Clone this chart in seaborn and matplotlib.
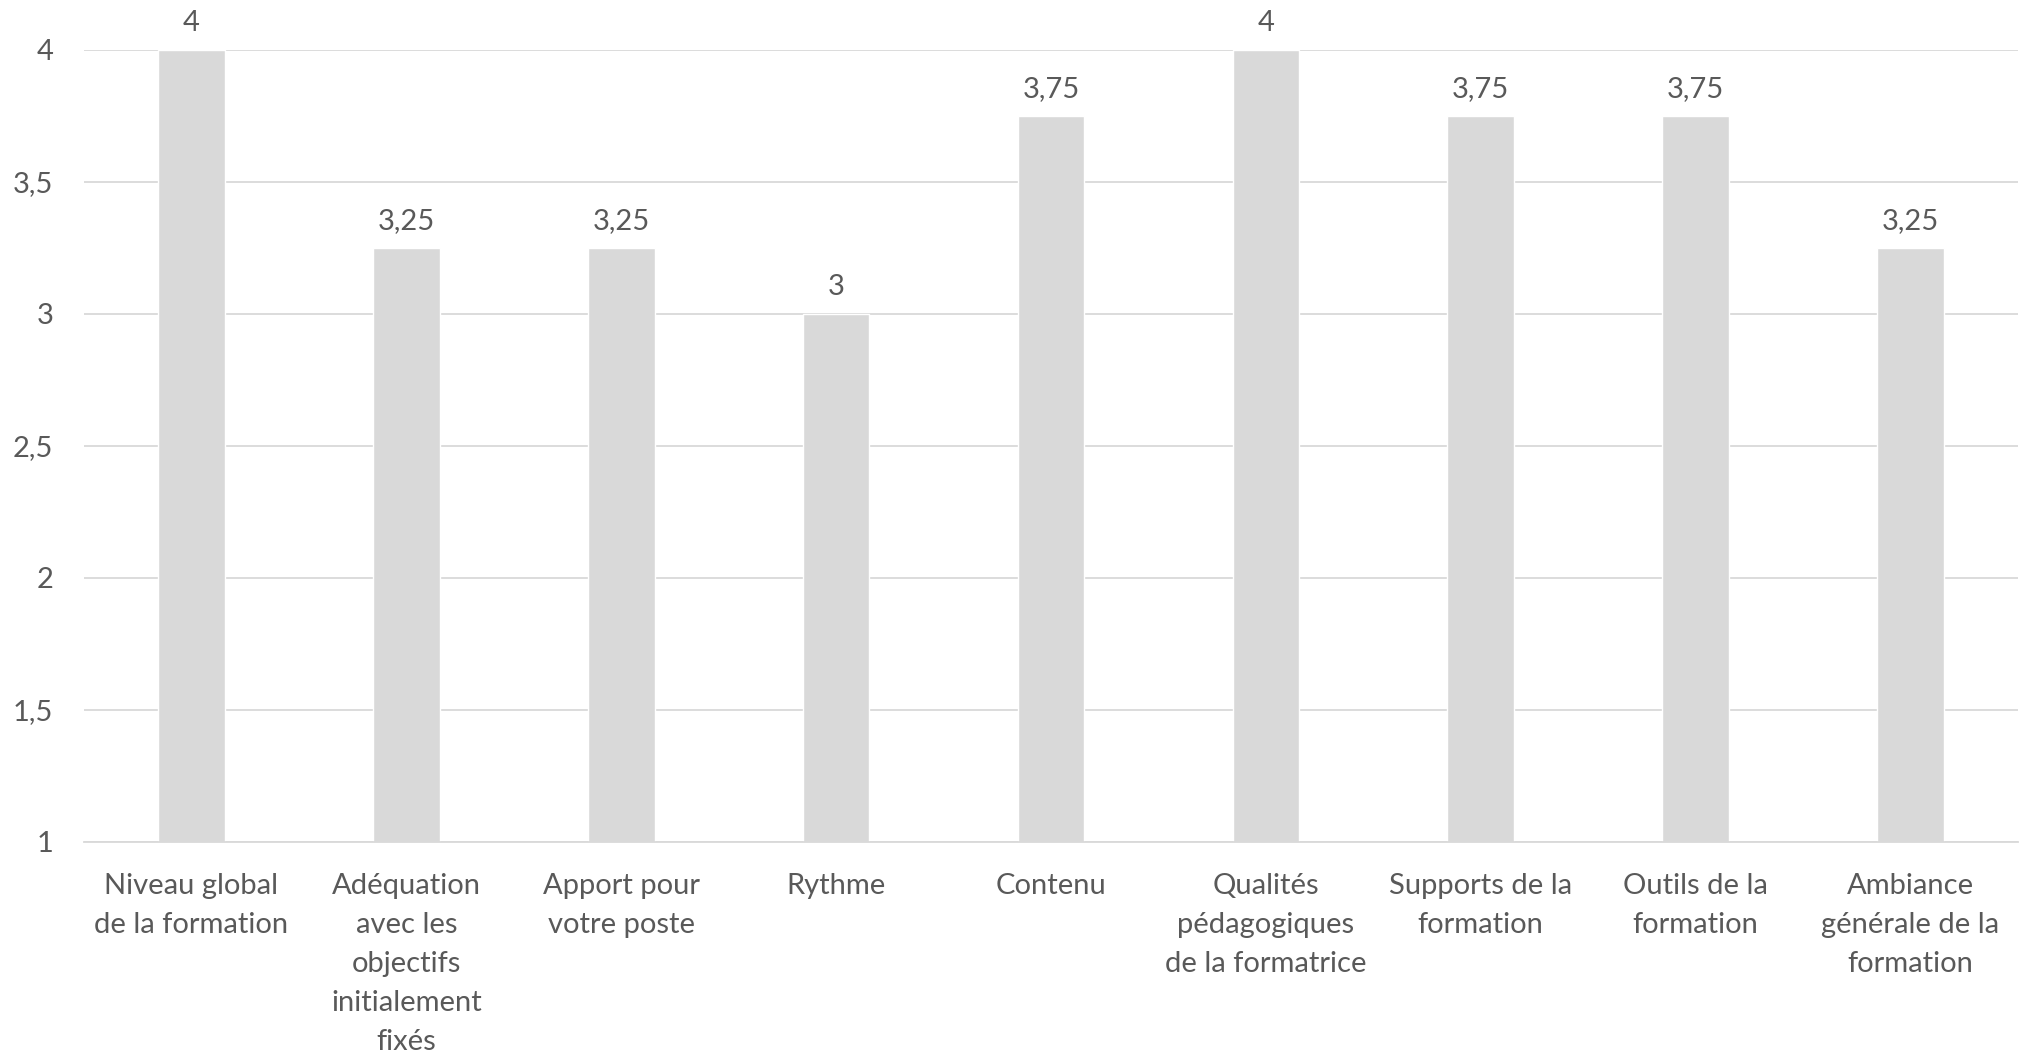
import matplotlib
matplotlib.use("Agg")
import matplotlib.pyplot as plt
import seaborn as sns
import pandas as pd

categories = [
    "Niveau global\nde la formation",
    "Adéquation\navec les\nobjectifs\ninitialement\nfixés",
    "Apport pour\nvotre poste",
    "Rythme",
    "Contenu",
    "Qualités\npédagogiques\nde la formatrice",
    "Supports de la\nformation",
    "Outils de la\nformation",
    "Ambiance\ngénérale de la\nformation",
]
values = [4, 3.25, 3.25, 3, 3.75, 4, 3.75, 3.75, 3.25]
yticks = [1, 1.5, 2, 2.5, 3, 3.5, 4]

sns.set_theme(style="white")
plt.rcParams['font.family'] = ['Lato', 'DejaVu Sans']

TXT = "#595959"
GRID = "#d9d9d9"
BAR = "#d9d9d9"

df = pd.DataFrame({"cat": categories, "val": values})

fig = plt.figure(figsize=(20.28, 10.54), dpi=100)
ax = fig.add_axes([84/2028, 212/1054, (2018-84)/2028, (842-50)/1054])

sns.barplot(data=df, x="cat", y="val", color=BAR, width=0.31, saturation=1,
            ax=ax, zorder=2)

ax.set_ylim(1, 4)
ax.set_xlim(-0.5, len(categories) - 0.5)
ax.set_yticks(yticks)
ax.set_yticklabels([("%g" % t).replace(".", ",") for t in yticks])
ax.set_axisbelow(True)
ax.yaxis.grid(True, color=GRID, linewidth=1.3)
ax.xaxis.grid(False)
for s in ["top", "right", "left"]:
    ax.spines[s].set_visible(False)
ax.spines["bottom"].set_color(GRID)
ax.spines["bottom"].set_linewidth(1.3)
ax.tick_params(axis="y", length=0, pad=22, labelsize=21, labelcolor=TXT)
ax.tick_params(axis="x", length=0, pad=22, labelsize=21, labelcolor=TXT)
for lab in ax.get_xticklabels():
    lab.set_linespacing(1.62)
    lab.set_ha("center")
ax.set_xlabel("")
ax.set_ylabel("")

for c in ax.containers:
    ax.bar_label(c, labels=[("%g" % v).replace(".", ",") for v in values],
                 padding=10, fontsize=21, color=TXT, clip_on=False)

fig.savefig("out.png", dpi=100)
